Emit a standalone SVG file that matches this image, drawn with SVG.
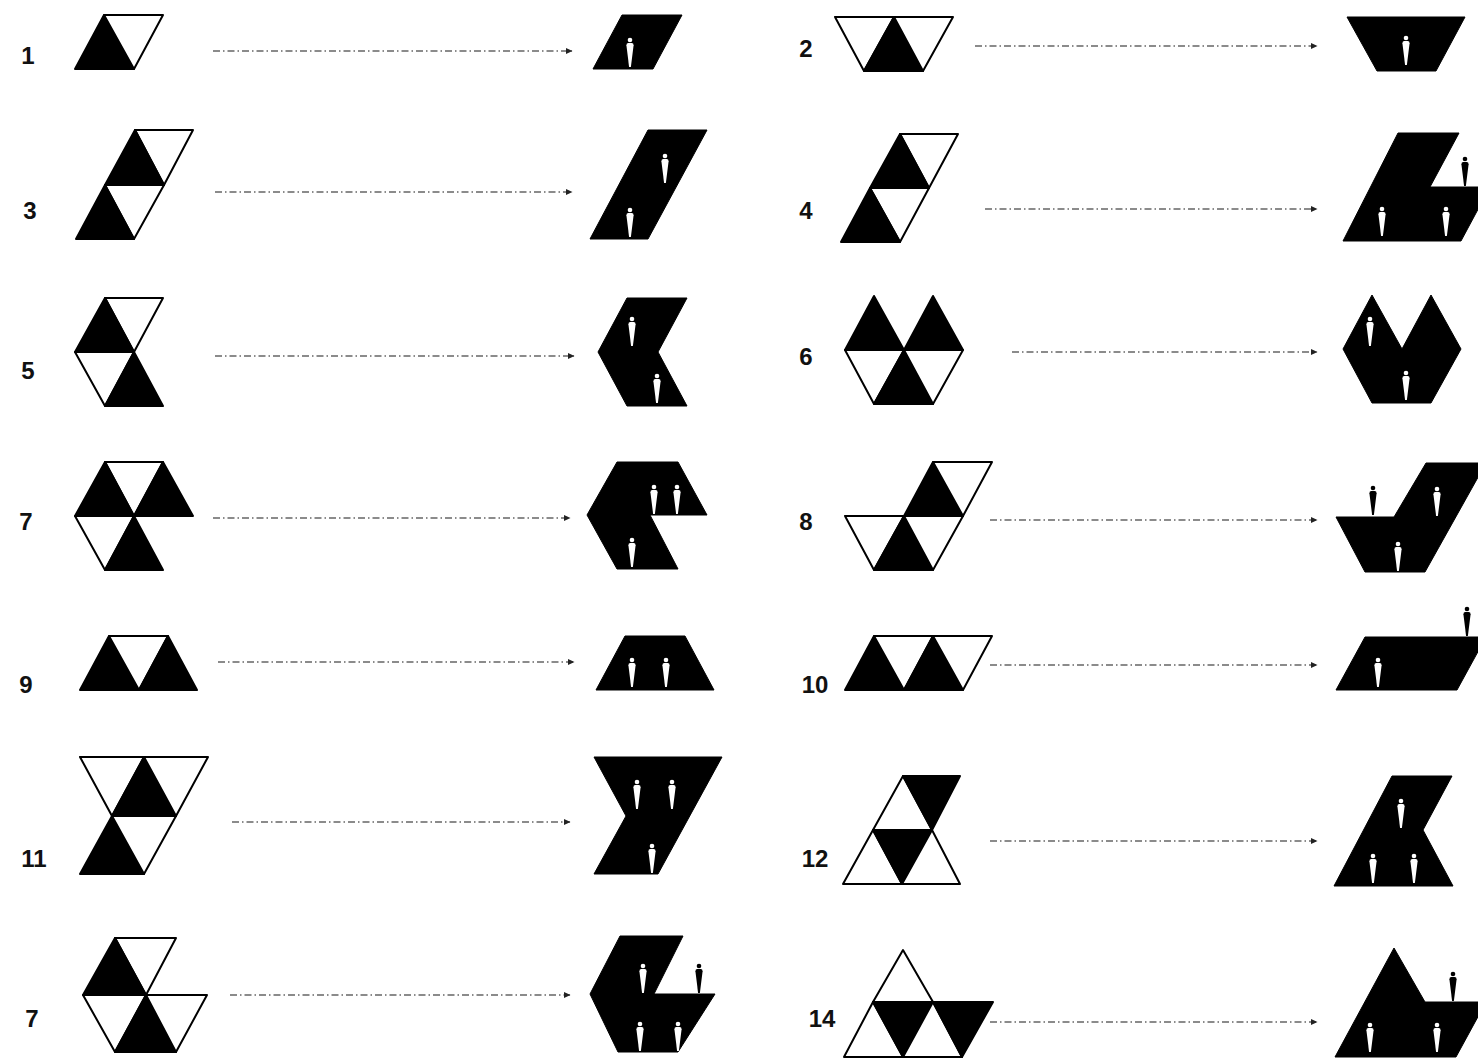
<svg xmlns="http://www.w3.org/2000/svg" xmlns:xlink="http://www.w3.org/1999/xlink" width="1478" height="1059" viewBox="0 0 1478 1059">
<style>
.b{fill:#000;stroke:#000;stroke-width:2;stroke-linejoin:round}
.w{fill:#fff;stroke:#000;stroke-width:2;stroke-linejoin:round}
.r{fill:#000;stroke:#000;stroke-width:1;stroke-linejoin:round}
.pw{fill:#fff}
.pb{fill:#000}
.c{fill:none;stroke:#666;stroke-width:1.3;stroke-dasharray:7 3 1.5 3}
.lbl{font-family:"Liberation Sans",Arial,sans-serif;font-size:24px;font-weight:bold;fill:#111;text-anchor:middle}
</style>
<defs>
<marker id="ah" markerWidth="7" markerHeight="7" refX="6" refY="3.5" orient="auto" markerUnits="userSpaceOnUse">
<path d="M0,0.5 L6.5,3.5 L0,6.5 Z" fill="#222"/>
</marker>
<g id="pin">
<circle cx="0" cy="-27" r="2.3"/>
<path d="M-3.6,-21.8 Q-3.6,-24 -1.6,-24 L1.6,-24 Q3.6,-24 3.6,-21.8 L0.9,0 L-0.9,0 Z"/>
</g>
</defs>
<rect width="1478" height="1059" fill="#fff"/>

<g id="connectors">
<line class="c" x1="213" y1="51" x2="572" y2="51" marker-end="url(#ah)"/>
<line class="c" x1="975" y1="46" x2="1317" y2="46" marker-end="url(#ah)"/>
<line class="c" x1="215" y1="192" x2="572" y2="192" marker-end="url(#ah)"/>
<line class="c" x1="985" y1="209" x2="1317" y2="209" marker-end="url(#ah)"/>
<line class="c" x1="215" y1="356" x2="574" y2="356" marker-end="url(#ah)"/>
<line class="c" x1="1012" y1="352" x2="1317" y2="352" marker-end="url(#ah)"/>
<line class="c" x1="213" y1="518" x2="570" y2="518" marker-end="url(#ah)"/>
<line class="c" x1="990" y1="520" x2="1317" y2="520" marker-end="url(#ah)"/>
<line class="c" x1="218" y1="662" x2="574" y2="662" marker-end="url(#ah)"/>
<line class="c" x1="990" y1="665" x2="1317" y2="665" marker-end="url(#ah)"/>
<line class="c" x1="232" y1="822" x2="570" y2="822" marker-end="url(#ah)"/>
<line class="c" x1="990" y1="841" x2="1317" y2="841" marker-end="url(#ah)"/>
<line class="c" x1="230" y1="995" x2="570" y2="995" marker-end="url(#ah)"/>
<line class="c" x1="990" y1="1022" x2="1317" y2="1022" marker-end="url(#ah)"/>
</g>

<g id="labels">
<text class="lbl" x="28" y="64">1</text>
<text class="lbl" x="806" y="57">2</text>
<text class="lbl" x="30" y="219">3</text>
<text class="lbl" x="806" y="219">4</text>
<text class="lbl" x="28" y="379">5</text>
<text class="lbl" x="806" y="365">6</text>
<text class="lbl" x="26" y="530">7</text>
<text class="lbl" x="806" y="530">8</text>
<text class="lbl" x="26" y="693">9</text>
<text class="lbl" x="815" y="693">10</text>
<text class="lbl" x="34" y="867">11</text>
<text class="lbl" x="815" y="867">12</text>
<text class="lbl" x="32" y="1027">7</text>
<text class="lbl" x="822" y="1027">14</text>
</g>

<g id="shape1">
<polygon class="b" points="75,69 104,15 134,69"/>
<polygon class="w" points="104,15 163,15 134,69"/>
</g>
<g id="result1">
<polygon class="r" points="593,69 622,15 682,15 653,69"/>
<use href="#pin" xlink:href="#pin" x="630" y="67" class="pw"/>
</g>

<g id="shape2">
<polygon class="w" points="835,17 894,17 864,71"/>
<polygon class="b" points="864,71 894,17 923,71"/>
<polygon class="w" points="894,17 953,17 923,71"/>
</g>
<g id="result2">
<polygon class="r" points="1347,17 1465,17 1436,71 1377,71"/>
<use href="#pin" xlink:href="#pin" x="1406" y="65" class="pw"/>
</g>

<g id="shape3">
<polygon class="w" points="135,130 193,130 164,185"/>
<polygon class="b" points="105,185 135,130 164,185"/>
<polygon class="w" points="105,185 164,185 134,239"/>
<polygon class="b" points="76,239 105,185 134,239"/>
</g>
<g id="result3">
<polygon class="r" points="648,130 707,130 648,239 590,239"/>
<use href="#pin" xlink:href="#pin" x="665" y="183" class="pw"/>
<use href="#pin" xlink:href="#pin" x="630" y="237" class="pw"/>
</g>

<g id="shape4">
<polygon class="w" points="900,134 958,134 929,188"/>
<polygon class="b" points="870,188 900,134 929,188"/>
<polygon class="w" points="870,188 929,188 900,242"/>
<polygon class="b" points="841,242 870,188 900,242"/>
</g>
<g id="result4">
<polygon class="r" points="1398,133 1459,133 1430,187 1490,187 1461,241 1343,241"/>
<use href="#pin" xlink:href="#pin" x="1382" y="236" class="pw"/>
<use href="#pin" xlink:href="#pin" x="1446" y="236" class="pw"/>
<use href="#pin" xlink:href="#pin" x="1465" y="186" class="pb"/>
</g>

<g id="shape5">
<polygon class="w" points="105,298 163,298 134,352"/>
<polygon class="b" points="75,352 105,298 134,352"/>
<polygon class="w" points="75,352 134,352 105,406"/>
<polygon class="b" points="105,406 134,352 163,406"/>
</g>
<g id="result5">
<polygon class="r" points="627,298 687,298 658,352 687,406 627,406 598,352"/>
<use href="#pin" xlink:href="#pin" x="632" y="346" class="pw"/>
<use href="#pin" xlink:href="#pin" x="657" y="403" class="pw"/>
</g>

<g id="shape6">
<polygon class="b" points="845,350 874,296 904,350"/>
<polygon class="b" points="904,350 933,296 963,350"/>
<polygon class="w" points="845,350 904,350 874,404"/>
<polygon class="b" points="874,404 904,350 933,404"/>
<polygon class="w" points="904,350 963,350 933,404"/>
</g>
<g id="result6">
<polygon class="r" points="1343,349 1372,295 1402,349 1431,295 1461,349 1431,403 1372,403"/>
<use href="#pin" xlink:href="#pin" x="1370" y="346" class="pw"/>
<use href="#pin" xlink:href="#pin" x="1406" y="400" class="pw"/>
</g>

<g id="shape7">
<polygon class="w" points="105,462 163,462 134,516"/>
<polygon class="b" points="75,516 105,462 134,516"/>
<polygon class="b" points="134,516 163,462 193,516"/>
<polygon class="w" points="75,516 134,516 105,570"/>
<polygon class="b" points="105,570 134,516 163,570"/>
</g>
<g id="result7">
<polygon class="r" points="617,462 678,462 707,515 650,515 678,569 617,569 587,515"/>
<use href="#pin" xlink:href="#pin" x="654" y="514" class="pw"/>
<use href="#pin" xlink:href="#pin" x="677" y="514" class="pw"/>
<use href="#pin" xlink:href="#pin" x="632" y="567" class="pw"/>
</g>

<g id="shape8">
<polygon class="w" points="845,516 904,516 874,570"/>
<polygon class="b" points="874,570 904,516 933,570"/>
<polygon class="w" points="904,516 963,516 933,570"/>
<polygon class="b" points="904,516 933,462 963,516"/>
<polygon class="w" points="933,462 992,462 963,516"/>
</g>
<g id="result8">
<polygon class="r" points="1336,517 1394,517 1426,463 1486,463 1425,572 1365,572"/>
<use href="#pin" xlink:href="#pin" x="1373" y="515" class="pb"/>
<use href="#pin" xlink:href="#pin" x="1437" y="516" class="pw"/>
<use href="#pin" xlink:href="#pin" x="1398" y="571" class="pw"/>
</g>

<g id="shape9">
<polygon class="b" points="80,690 109,636 139,690"/>
<polygon class="w" points="109,636 168,636 139,690"/>
<polygon class="b" points="139,690 168,636 197,690"/>
</g>
<g id="result9">
<polygon class="r" points="625,636 685,636 714,690 596,690"/>
<use href="#pin" xlink:href="#pin" x="632" y="687" class="pw"/>
<use href="#pin" xlink:href="#pin" x="666" y="687" class="pw"/>
</g>

<g id="shape10">
<polygon class="b" points="845,690 874,636 904,690"/>
<polygon class="w" points="874,636 933,636 904,690"/>
<polygon class="b" points="904,690 933,636 963,690"/>
<polygon class="w" points="933,636 992,636 963,690"/>
</g>
<g id="result10">
<polygon class="r" points="1336,690 1365,637 1486,637 1457,690"/>
<use href="#pin" xlink:href="#pin" x="1378" y="687" class="pw"/>
<use href="#pin" xlink:href="#pin" x="1467" y="636" class="pb"/>
</g>

<g id="shape11">
<polygon class="w" points="80,757 144,757 112,816"/>
<polygon class="b" points="112,816 144,757 176,816"/>
<polygon class="w" points="144,757 208,757 176,816"/>
<polygon class="b" points="80,874 112,816 144,874"/>
<polygon class="w" points="112,816 176,816 144,874"/>
</g>
<g id="result11">
<polygon class="r" points="594,757 722,757 658,874 594,874 626,816"/>
<use href="#pin" xlink:href="#pin" x="637" y="809" class="pw"/>
<use href="#pin" xlink:href="#pin" x="672" y="809" class="pw"/>
<use href="#pin" xlink:href="#pin" x="652" y="873" class="pw"/>
</g>

<g id="shape12">
<polygon class="w" points="873,830 903,776 932,830"/>
<polygon class="b" points="903,776 960,776 932,830"/>
<polygon class="w" points="843,884 873,830 902,884"/>
<polygon class="b" points="873,830 932,830 902,884"/>
<polygon class="w" points="902,884 932,830 960,884"/>
</g>
<g id="result12">
<polygon class="r" points="1392,776 1452,776 1423,830 1453,886 1334,886"/>
<use href="#pin" xlink:href="#pin" x="1401" y="828" class="pw"/>
<use href="#pin" xlink:href="#pin" x="1373" y="883" class="pw"/>
<use href="#pin" xlink:href="#pin" x="1414" y="883" class="pw"/>
</g>

<g id="shape13">
<polygon class="w" points="115,938 176,938 146,995"/>
<polygon class="b" points="83,995 115,938 146,995"/>
<polygon class="w" points="83,995 146,995 115,1052"/>
<polygon class="b" points="115,1052 146,995 176,1052"/>
<polygon class="w" points="146,995 207,995 176,1052"/>
</g>
<g id="result13">
<polygon class="r" points="620,936 683,936 654,994 715,994 678,1052 618,1052 590,994"/>
<use href="#pin" xlink:href="#pin" x="643" y="993" class="pw"/>
<use href="#pin" xlink:href="#pin" x="699" y="993" class="pb"/>
<use href="#pin" xlink:href="#pin" x="640" y="1051" class="pw"/>
<use href="#pin" xlink:href="#pin" x="678" y="1051" class="pw"/>
</g>

<g id="shape14">
<polygon class="w" points="873,1002 903,950 933,1002"/>
<polygon class="w" points="844,1057 873,1002 903,1057"/>
<polygon class="b" points="873,1002 933,1002 903,1057"/>
<polygon class="w" points="903,1057 933,1002 962,1057"/>
<polygon class="b" points="933,1002 993,1002 962,1057"/>
</g>
<g id="result14">
<polygon class="r" points="1394,948 1425,1002 1486,1002 1456,1057 1335,1057"/>
<use href="#pin" xlink:href="#pin" x="1370" y="1052" class="pw"/>
<use href="#pin" xlink:href="#pin" x="1437" y="1052" class="pw"/>
<use href="#pin" xlink:href="#pin" x="1453" y="1001" class="pb"/>
</g>
</svg>
